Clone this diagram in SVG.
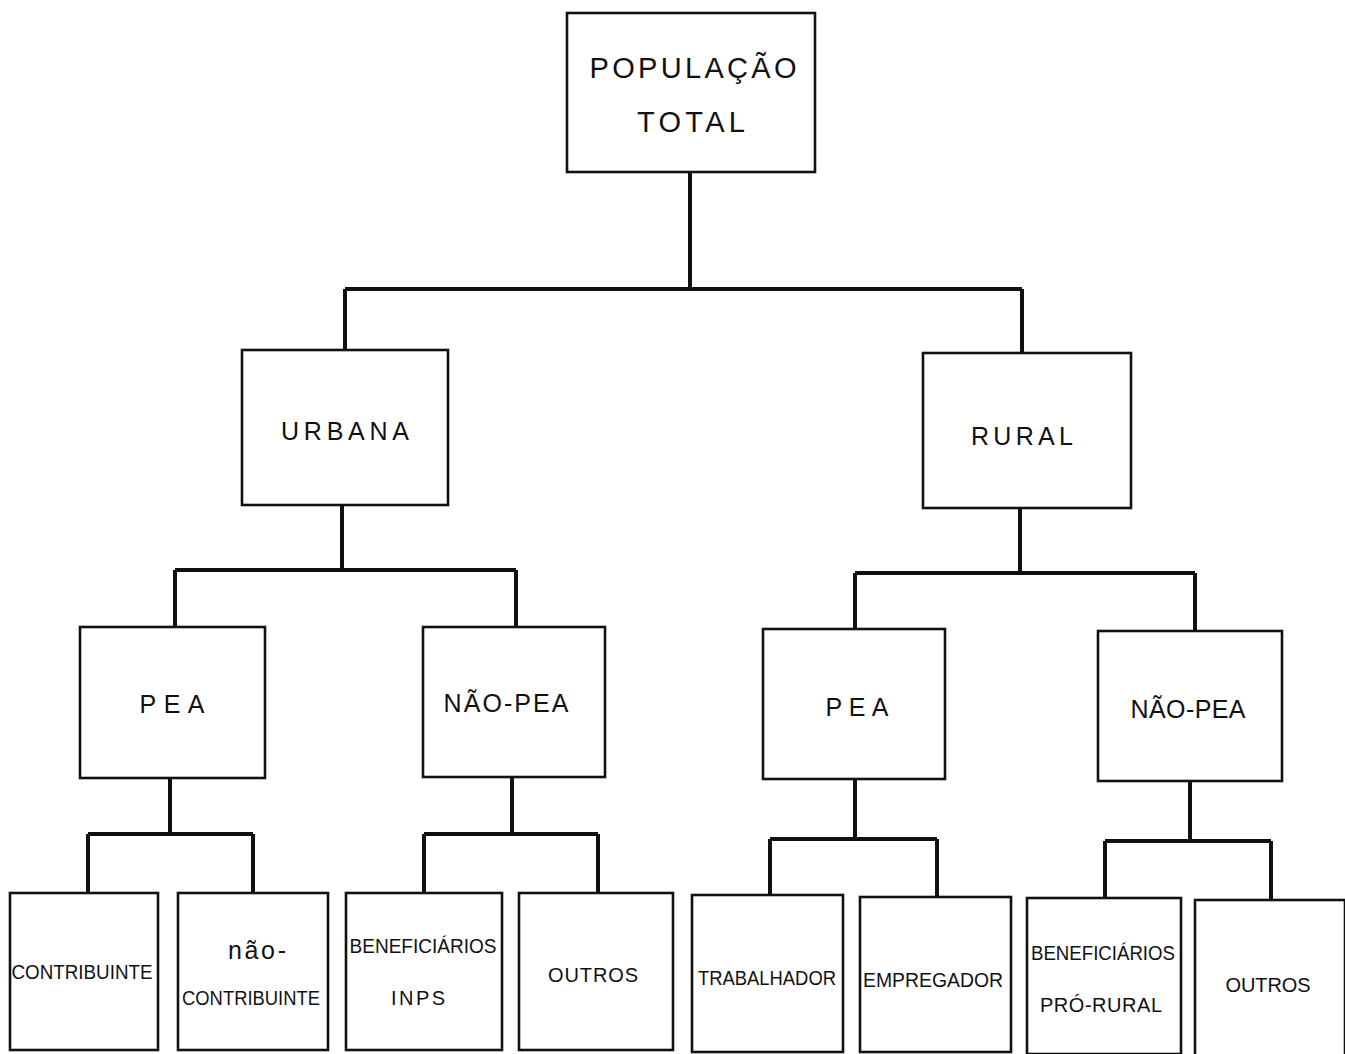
<svg xmlns="http://www.w3.org/2000/svg" width="1345" height="1054" viewBox="0 0 1345 1054">
<style>
.box{fill:#fff;stroke:#111;stroke-width:2.6}
.t{font-family:"Liberation Sans",Arial,sans-serif;fill:#111;text-anchor:middle;dominant-baseline:central}
.big{font-size:29px}
.mid{font-size:25px}
.sm{font-size:20px}
.conn{fill:none;stroke:#111;stroke-width:4;stroke-linejoin:miter}
</style>
<rect width="1345" height="1054" fill="#fff"/>
<g id="connectors">
<path class="conn" d="M690 172V289M345 289H1022M345 289V350M1022 289V353"/>
<path class="conn" d="M342 505V570M175 570H516M175 570V627M516 570V627"/>
<path class="conn" d="M1020 508V573M855 573H1195M855 573V629M1195 573V631"/>
<path class="conn" d="M170 778V834M88 834H253M88 834V893M253 834V893"/>
<path class="conn" d="M512 777V834M424 834H598M424 834V893M598 834V893"/>
<path class="conn" d="M855 779V839M770 839H937M770 839V895M937 839V897"/>
<path class="conn" d="M1190 781V841M1105 841H1271M1105 841V898M1271 841V900"/>
</g>
<g id="populacao-total"><rect class="box" x="567" y="13" width="248" height="159"/>
<text class="t big" x="693" y="68" textLength="207" lengthAdjust="spacing">POPULAÇÃO</text>
<text class="t big" x="691" y="122" textLength="108" lengthAdjust="spacing">TOTAL</text></g>
<g id="urbana"><rect class="box" x="242" y="350" width="206" height="155"/>
<text class="t mid" x="345" y="431" textLength="128" lengthAdjust="spacing">URBANA</text></g>
<g id="rural"><rect class="box" x="923" y="353" width="208" height="155"/>
<text class="t mid" x="1022" y="436" textLength="102" lengthAdjust="spacing">RURAL</text></g>
<g id="urbana-pea"><rect class="box" x="80" y="627" width="185" height="151"/>
<text class="t mid" x="172" y="704" textLength="65" lengthAdjust="spacing">PEA</text></g>
<g id="urbana-nao-pea"><rect class="box" x="423" y="627" width="182" height="150"/>
<text class="t mid" x="506" y="703" textLength="125" lengthAdjust="spacing">NÃO-PEA</text></g>
<g id="rural-pea"><rect class="box" x="763" y="629" width="182" height="150"/>
<text class="t mid" x="857" y="707" textLength="63" lengthAdjust="spacing">PEA</text></g>
<g id="rural-nao-pea"><rect class="box" x="1098" y="631" width="184" height="150"/>
<text class="t mid" x="1188" y="709" textLength="115" lengthAdjust="spacing">NÃO-PEA</text></g>
<g id="contribuinte"><rect class="box" x="10" y="893" width="148" height="157"/>
<text class="t sm" x="82" y="972" textLength="141" lengthAdjust="spacingAndGlyphs">CONTRIBUINTE</text></g>
<g id="nao-contribuinte"><rect class="box" x="178" y="893" width="150" height="157"/>
<text class="t mid" x="257" y="950" textLength="58" lengthAdjust="spacing">não-</text>
<text class="t sm" x="251" y="998" textLength="138" lengthAdjust="spacingAndGlyphs">CONTRIBUINTE</text></g>
<g id="beneficiarios-inps"><rect class="box" x="346" y="893" width="156" height="157"/>
<text class="t sm" x="423" y="946" textLength="147" lengthAdjust="spacingAndGlyphs">BENEFICIÁRIOS</text>
<text class="t sm" x="418" y="998" textLength="54" lengthAdjust="spacing">INPS</text></g>
<g id="urbana-outros"><rect class="box" x="519" y="893" width="154" height="157"/>
<text class="t sm" x="593" y="975" textLength="90" lengthAdjust="spacing">OUTROS</text></g>
<g id="trabalhador"><rect class="box" x="692" y="895" width="151" height="157"/>
<text class="t sm" x="767" y="978" textLength="138" lengthAdjust="spacingAndGlyphs">TRABALHADOR</text></g>
<g id="empregador"><rect class="box" x="860" y="897" width="151" height="155"/>
<text class="t sm" x="933" y="980" textLength="140" lengthAdjust="spacingAndGlyphs">EMPREGADOR</text></g>
<g id="beneficiarios-pro-rural"><rect class="box" x="1027" y="898" width="154" height="156"/>
<text class="t sm" x="1103" y="953" textLength="144" lengthAdjust="spacingAndGlyphs">BENEFICIÁRIOS</text>
<text class="t sm" x="1101" y="1005" textLength="122" lengthAdjust="spacing">PRÓ-RURAL</text></g>
<g id="rural-outros"><rect class="box" x="1195" y="900" width="150" height="156"/>
<text class="t sm" x="1268" y="985" textLength="85" lengthAdjust="spacing">OUTROS</text></g>
</svg>
